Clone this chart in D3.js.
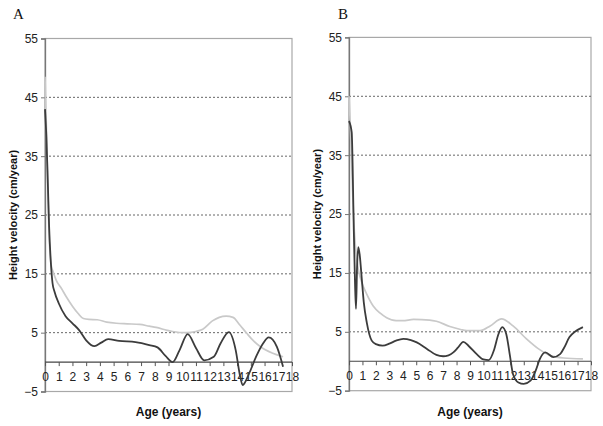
<!DOCTYPE html>
<html>
<head>
<meta charset="utf-8">
<script src="https://cdn.jsdelivr.net/npm/d3@7"></script>
<style>
  html, body { margin: 0; padding: 0; background: #ffffff; }
  svg { display: block; }
</style>
</head>
<body>
<svg id="chart" width="603" height="426"></svg>
<script>
// ---- data ----
const panelLabels = ["A", "B"];
const xTicks = d3.range(0, 19);                 // 0..18
const yTicks = [55, 45, 35, 25, 15, 5, -5];
const gridValues = [45, 35, 25, 15, 5];
const xTitle = "Age (years)";
const yTitle = "Height velocity (cm/year)";

// Panel A - dark (patient) curve
const ageA_dark = [0, 0.1, 0.2, 0.3, 0.43, 0.55, 0.69, 1.0, 1.5, 2.0, 2.5, 3.0, 3.6, 4.1, 4.6, 5.4, 6.6, 7.6, 8.2, 8.8, 9.3, 9.8, 10.4, 11.0, 11.6, 12.3, 12.8, 13.4, 13.9, 14.2, 14.4, 14.9, 15.4, 15.9, 16.3, 16.9, 17.35];
const velA_dark = [43, 38.3, 31, 23, 16.8, 13.4, 12, 10, 7.8, 6.6, 5.4, 3.7, 2.7, 3.3, 3.9, 3.6, 3.4, 2.9, 2.5, 1.0, 0.0, 2.0, 4.75, 2.4, 0.3, 0.9, 3.2, 5.1, 2.0, -2.2, -3.9, -1.8, 1.0, 3.2, 4.2, 2.6, -0.8];
// Panel A - light (reference) curve
const ageA_light = [0, 0.1, 0.2, 0.33, 0.45, 0.6, 0.82, 1.2, 1.55, 2.0, 2.4, 2.8, 3.2, 3.8, 4.5, 5.2, 6.0, 6.9, 7.6, 8.1, 8.9, 9.3, 10.3, 11.0, 11.5, 12.2, 12.7, 13.2, 13.7, 14.2, 14.7, 15.2, 15.7, 16.6, 17.35];
const velA_light = [48.5, 40, 30, 20, 16.5, 15.3, 13.9, 12.5, 11.1, 9.5, 8.3, 7.4, 7.25, 7.2, 6.8, 6.6, 6.5, 6.4, 6.1, 5.9, 5.4, 5.2, 5.0, 5.2, 5.6, 7.0, 7.6, 7.8, 7.6, 6.3, 4.9, 3.6, 2.6, 1.5, 0.9];

// Panel B - dark (patient) curve
const ageB_dark = [0, 0.2, 0.36, 0.45, 0.52, 0.6, 0.69, 0.8, 0.95, 1.1, 1.32, 1.69, 2.0, 2.5, 3.05, 3.5, 4.04, 4.6, 5.04, 5.8, 6.5, 7.0, 7.4, 7.76, 8.1, 8.5, 8.9, 9.5, 10.0, 10.4, 10.8, 11.1, 11.4, 11.7, 11.97, 12.2, 12.6, 13.0, 13.5, 13.9, 14.2, 14.6, 15.2, 15.7, 16.0, 16.4, 16.8, 17.4];
const velB_dark = [40.8, 38.9, 22, 13, 8.9, 16, 19.4, 18, 14, 10, 6.6, 3.5, 2.9, 2.65, 3.05, 3.5, 3.8, 3.6, 3.2, 2.1, 1.07, 0.85, 1.0, 1.5, 2.3, 3.3, 2.6, 1.2, 0.3, 0.2, 2.0, 4.5, 5.8, 4.6, 0.95, -2.2, -3.6, -3.85, -3.3, -1.5, 0.4, 1.5, 0.7, 1.2, 2.3, 4.1, 5.0, 5.8];
// Panel B - light (reference) curve
const ageB_light = [0, 0.1, 0.25, 0.4, 0.6, 0.95, 1.3, 1.8, 2.3, 2.8, 3.5, 4.0, 4.8, 6.0, 6.5, 7.5, 8.3, 8.75, 9.75, 10.5, 11.35, 12.2, 13.2, 14.1, 15.0, 15.96, 17.4];
const velB_light = [45, 40, 30, 22, 17, 13.4, 11.5, 9.4, 8.2, 7.4, 6.9, 6.9, 7.1, 7.0, 6.8, 5.9, 5.4, 5.2, 5.2, 6.0, 7.2, 6.0, 3.8, 2.1, 0.95, 0.55, 0.4];

// ---- layout ----
const panels = [
  { label: panelLabels[0], labelX: 13, left: 45, right: 292, top: 38.5, bottom: 391.5, titleX: 13,
    dark: d3.zip(ageA_dark, velA_dark), light: d3.zip(ageA_light, velA_light) },
  { label: panelLabels[1], labelX: 338, left: 349, right: 591, top: 37.4, bottom: 390.7, titleX: 317,
    dark: d3.zip(ageB_dark, velB_dark), light: d3.zip(ageB_light, velB_light) }
];

const svg = d3.select("#chart");
const FONT = "'Liberation Sans', Arial, sans-serif";

panels.forEach(p => {
  const x = d3.scaleLinear().domain([0, 18]).range([p.left, p.right]);
  const y = d3.scaleLinear().domain([-5, 55]).range([p.bottom, p.top]);
  const g = svg.append("g");

  // panel letter
  svg.append("text").attr("x", p.labelX).attr("y", 19)
    .attr("font-family", "'Liberation Serif', 'Times New Roman', serif")
    .attr("font-size", 15).attr("fill", "#111").text(p.label);

  // plot frame
  g.append("rect").attr("x", p.left).attr("y", p.top)
    .attr("width", p.right - p.left).attr("height", p.bottom - p.top)
    .attr("fill", "none").attr("stroke", "#a8a8a8").attr("stroke-width", 1.2);

  // gridlines (dotted)
  g.selectAll(".grid").data(gridValues).enter().append("line")
    .attr("x1", p.left).attr("x2", p.right)
    .attr("y1", d => y(d)).attr("y2", d => y(d))
    .attr("stroke", "#666").attr("stroke-width", 1)
    .attr("stroke-dasharray", "2,2");

  // y axis
  const yAxis = d3.axisLeft(y).tickValues(yTicks).tickSize(4).tickPadding(3);
  const ya = g.append("g").attr("transform", `translate(${p.left},0)`).call(yAxis);
  ya.select(".domain").attr("stroke", "#777").attr("stroke-width", 1.3);
  ya.selectAll(".tick line").attr("stroke", "#777");
  ya.selectAll(".tick text").attr("font-family", FONT).attr("font-size", 12).attr("fill", "#222");

  // x axis at y = 0
  const xAxis = d3.axisBottom(x).tickValues(xTicks).tickSize(4).tickPadding(6).tickFormat(d3.format("d"));
  const xa = g.append("g").attr("transform", `translate(0,${y(0)})`).call(xAxis);
  xa.select(".domain").attr("stroke", "#444").attr("stroke-width", 1.2).attr("d", `M${p.left},0H${p.right}`);
  xa.selectAll(".tick line").attr("stroke", "#555");
  xa.selectAll(".tick text").attr("font-family", FONT).attr("font-size", 12).attr("fill", "#222");

  // curves
  const line = d3.line().x(d => x(d[0])).y(d => y(d[1])).curve(d3.curveMonotoneX);
  g.append("path").datum(p.light).attr("d", line)
    .attr("fill", "none").attr("stroke", "#c9c9c9").attr("stroke-width", 1.7);
  g.append("path").datum(p.dark).attr("d", line)
    .attr("fill", "none").attr("stroke", "#3c3c3c").attr("stroke-width", 1.8);

  // axis titles
  svg.append("text")
    .attr("x", (p.left + p.right) / 2).attr("y", 416)
    .attr("text-anchor", "middle").attr("font-family", FONT)
    .attr("font-weight", "bold").attr("font-size", 12).attr("fill", "#111")
    .text(xTitle);
  svg.append("text")
    .attr("transform", `translate(${p.titleX},${(p.top + p.bottom) / 2}) rotate(-90)`)
    .attr("text-anchor", "middle").attr("dy", "0.35em").attr("font-family", FONT)
    .attr("font-weight", "bold").attr("font-size", 11).attr("fill", "#111")
    .text(yTitle);
});
</script>
</body>
</html>
